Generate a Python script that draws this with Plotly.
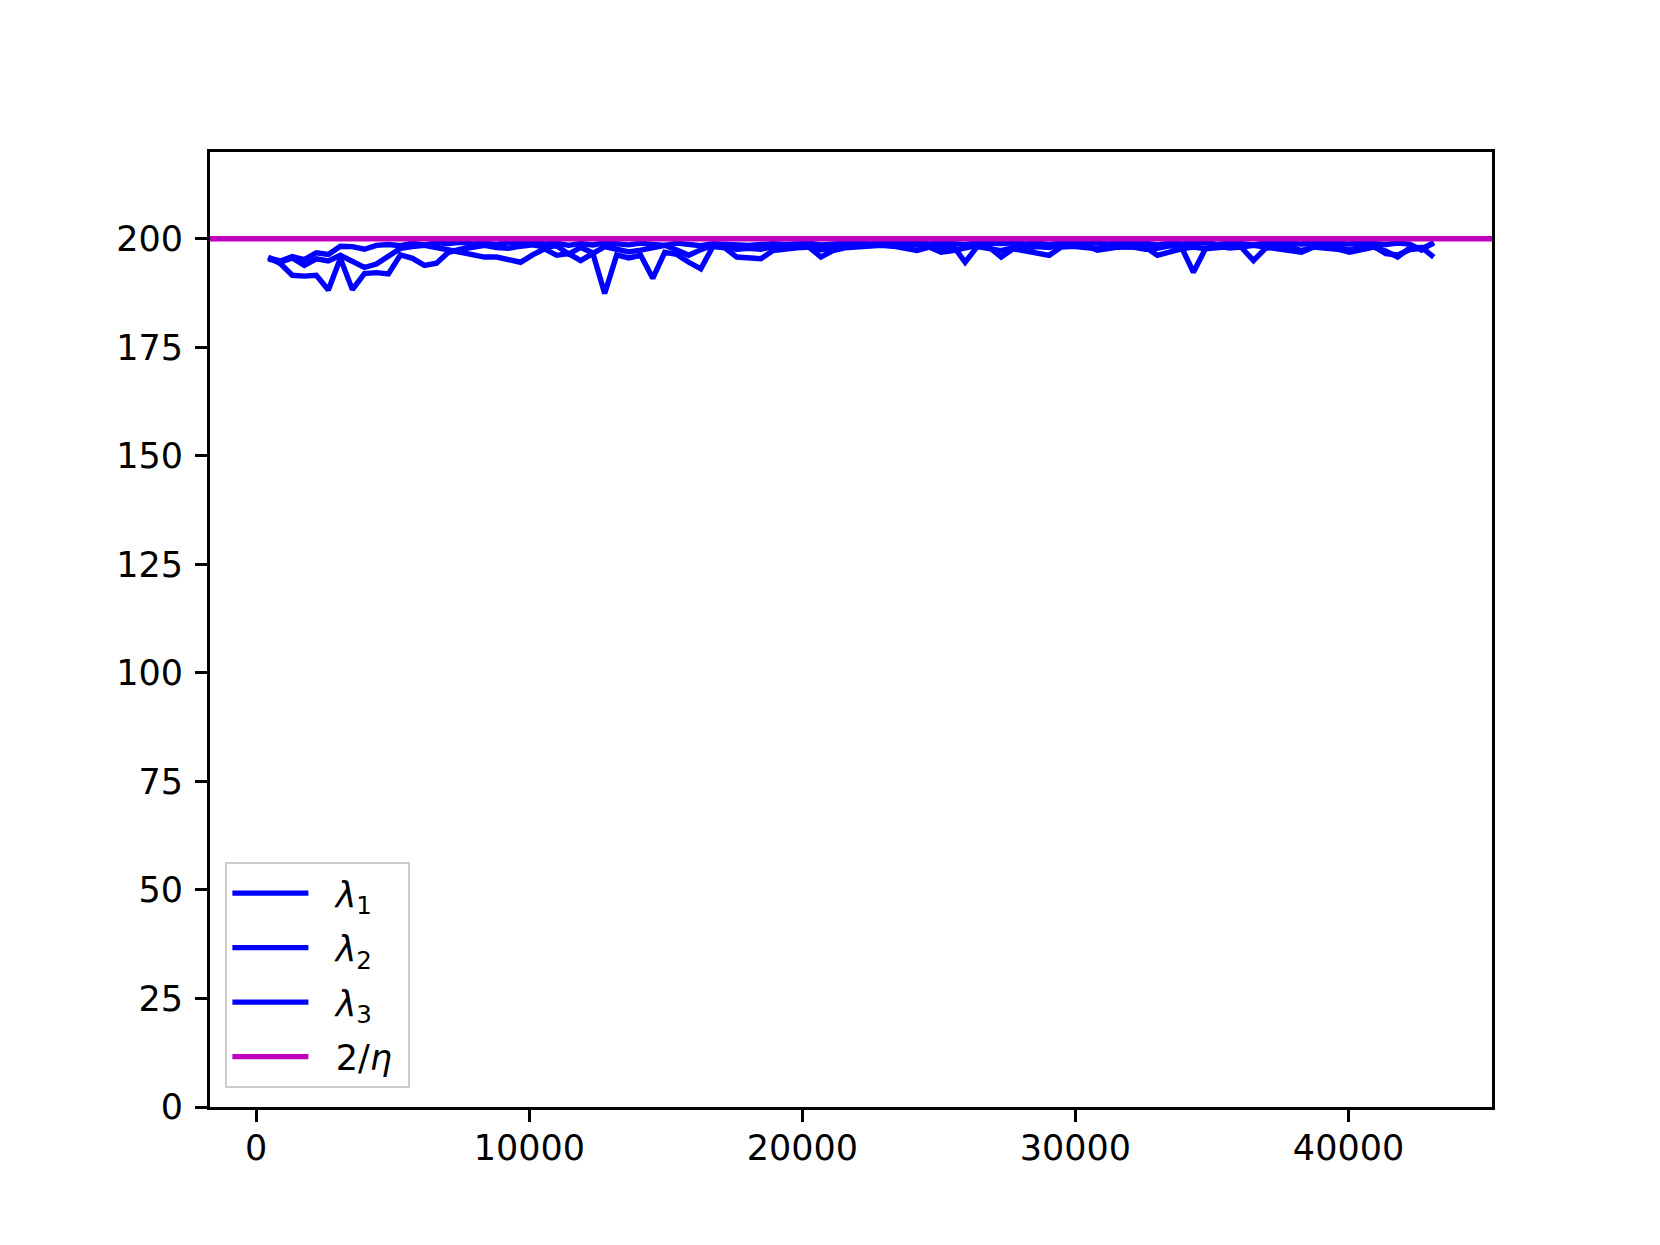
import plotly.graph_objects as go

# training step at which the top hessian eigenvalues were logged
steps = [440 * k for k in range(1, 99)]

lambda_1 = [
    195.6, 194.9, 195.9, 195.2, 196.8, 196.4, 198.3, 198.2, 197.6, 198.5,
    198.7, 198.4, 199.0, 198.6, 199.1, 198.9, 199.2, 198.8, 199.0, 198.7,
    199.1, 198.9, 199.2, 198.8, 199.0, 198.5, 198.9, 198.6, 199.1, 198.8,
    198.6, 199.0, 198.7, 198.5, 199.0, 198.6, 198.4, 198.9, 198.7, 198.8,
    198.5, 198.7, 198.9, 198.7, 198.8, 199.0, 198.6, 198.9, 199.0, 199.1,
    198.8, 199.0, 199.1, 198.9, 199.0, 198.8, 199.1, 198.9, 198.7, 199.0,
    198.8, 198.9, 199.1, 198.8, 199.0, 198.7, 199.0, 199.1, 198.9, 199.0,
    198.8, 199.1, 198.9, 199.0, 198.6, 199.0, 198.8, 198.9, 199.1, 198.7,
    199.0, 198.9, 198.6, 199.1, 198.9, 199.0, 198.8, 199.1, 198.9, 199.0,
    198.8, 199.1, 198.9, 198.7, 199.0, 198.8, 197.4, 199.2,
]

lambda_2 = [
    195.4, 194.6, 195.6, 193.9, 195.4, 194.9, 196.2, 194.8, 193.4, 194.2,
    196.0, 197.8, 198.2, 198.5, 198.0, 197.5, 197.0, 196.3, 195.8, 195.8,
    195.2, 194.6, 196.3, 197.7, 196.2, 196.6, 195.0, 196.6, 198.2, 197.6,
    197.0, 197.4, 197.9, 198.5, 197.4, 196.2, 197.5, 198.5, 198.0, 197.6,
    197.8, 197.6, 198.2, 198.0, 198.4, 198.1, 195.8, 197.3, 197.9, 198.2,
    198.4, 198.5, 198.3, 197.7, 197.3, 198.1, 196.9, 197.3, 197.8, 198.5,
    198.1, 195.8, 197.7, 197.2, 196.6, 196.2, 198.1, 198.3, 198.0, 197.7,
    198.1, 198.0, 197.9, 198.1, 196.2, 197.0, 197.7, 198.1, 197.7, 198.4,
    197.9, 198.1, 198.5, 198.1, 197.8, 197.4, 196.9, 198.1, 197.9, 197.6,
    196.9, 197.5, 198.1, 197.2, 195.8, 197.9, 198.0, 195.8,
]

lambda_3 = [
    195.8, 194.3, 191.6, 191.4, 191.6, 188.2, 195.5, 188.3, 192.0, 192.2,
    191.9, 196.3, 195.5, 193.9, 194.4, 196.9, 197.6, 198.2, 198.5, 198.0,
    197.8, 198.3, 198.6, 198.1, 198.4, 196.5, 198.0, 196.8, 187.4, 196.3,
    195.6, 196.2, 190.9, 196.9, 196.4, 194.6, 193.1, 198.2, 197.9, 195.8,
    195.6, 195.4, 197.3, 197.7, 197.9, 198.1, 197.5, 197.8, 198.3, 198.5,
    198.6, 198.7, 198.6, 198.4, 198.6, 198.2, 197.9, 198.4, 194.6, 198.2,
    197.9, 197.3, 198.0, 197.8, 198.2, 198.0, 198.6, 198.4, 198.5, 197.4,
    197.9, 198.2, 198.1, 197.6, 197.8, 198.4, 198.1, 192.3, 197.7, 197.9,
    198.2, 198.0, 195.0, 197.8, 198.3, 198.1, 197.3, 198.2, 198.4, 198.0,
    197.4, 198.2, 198.3, 196.6, 196.3, 197.5, 197.8, 199.0,
]

eta = 0.01
x_range = [-1694, 45254]
y_range = [0, 220]
y_ticks = [0, 25, 50, 75, 100, 125, 150, 175, 200]
x_ticks = [0, 10000, 20000, 30000, 40000]

font = dict(family="DejaVu Sans", size=35, color="black")
GAP = "\u00a0\u00a0"  # room between legend handle and label
PAD = "\u00a0"        # right padding inside legend frame

fig = go.Figure()
for i, vals in enumerate([lambda_1, lambda_2, lambda_3], start=1):
    fig.add_trace(go.Scatter(
        x=steps, y=vals, mode="lines",
        name=f"{GAP}<i>λ</i><sub>{i}</sub>{PAD}",
        line=dict(color="#0000ff", width=5.4),
        legendgroup=f"l{i}",
    ))

# horizontal stability threshold 2/eta across the whole axes
fig.add_trace(go.Scatter(
    x=x_range, y=[2 / eta, 2 / eta], mode="lines",
    name=f"{GAP}2/<i>η</i>{PAD}",
    line=dict(color="#bf00bf", width=5.4),
    legendgroup="eta",
))

axis_style = dict(
    showgrid=False, zeroline=False,
    showline=True, linecolor="black", linewidth=3, mirror=True,
    ticks="outside", ticklen=12, tickwidth=3, tickcolor="black",
    tickfont=font,
)

fig.update_xaxes(range=x_range, tickvals=x_ticks, ticktext=[str(t) for t in x_ticks],
                 ticklabelstandoff=-4, **axis_style)
fig.update_yaxes(range=y_range, tickvals=y_ticks, ticktext=[str(t) for t in y_ticks],
                 ticklabelstandoff=5, **axis_style)

fig.update_layout(
    width=1660, height=1245,
    margin=dict(l=202, r=176, t=144, b=146),
    paper_bgcolor="white", plot_bgcolor="white",
    font=font,
    legend=dict(
        x=0.012, y=0.02, xanchor="left", yanchor="bottom",
        bgcolor="rgba(255,255,255,0.8)", bordercolor="#cccccc", borderwidth=2,
        font=dict(family="DejaVu Sans", size=35, color="black"),
        traceorder="grouped", tracegroupgap=6, itemwidth=76,
    ),
)

fig.write_html("out.html")
